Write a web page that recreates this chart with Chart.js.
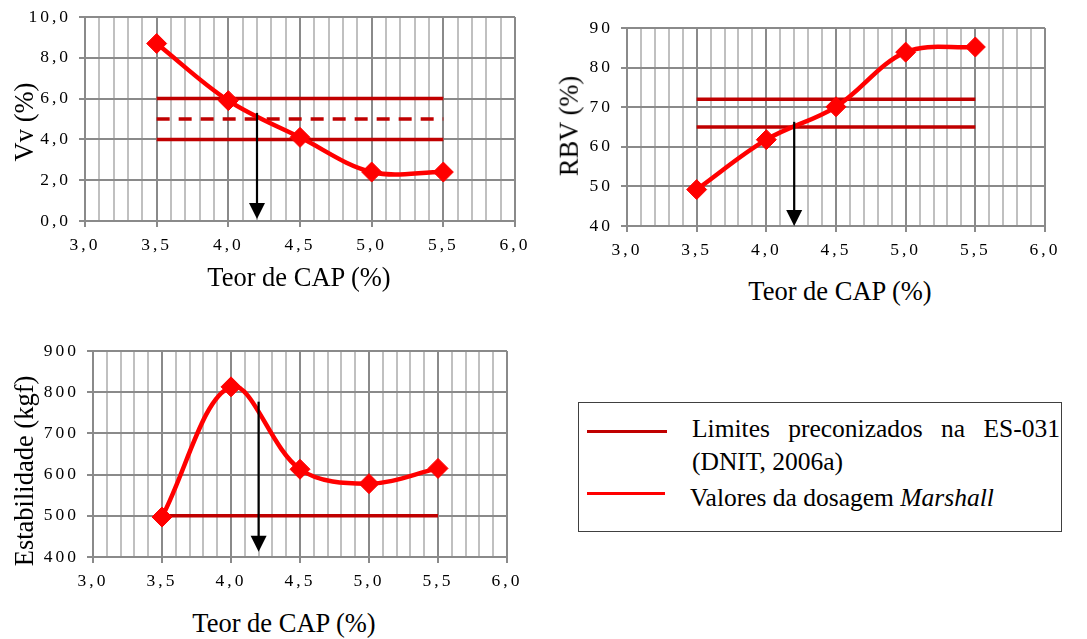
<!DOCTYPE html>
<html lang="pt">
<head>
<meta charset="utf-8">
<title>Dosagem Marshall – Vv, RBV e Estabilidade</title>
<script src="https://cdn.jsdelivr.net/npm/chart.js@4.4.1/dist/chart.umd.min.js"></script>
<style>
  html, body { margin: 0; padding: 0; background: #fff; }
  body { position: relative; width: 1087px; height: 639px; overflow: hidden;
         font-family: 'Liberation Serif', 'Times New Roman', serif; color: #000; }
  canvas { position: absolute; }
  .titulo { position: absolute; font-size: 26.5px; line-height: 1; white-space: nowrap;
            transform: translate(-50%, -50%); }
  .titulo.vertical { transform: translate(-50%, -50%) rotate(-90deg); }
  #legenda { position: absolute; left: 578px; top: 402px; width: 484px; height: 130px;
             box-sizing: border-box; border: 1.5px solid #404040; }
  .leg-linha { position: absolute; height: 3px; }
  .leg-texto { position: absolute; font-size: 25.5px; line-height: 1; white-space: nowrap; }
  .justificado { display: flex; justify-content: space-between; width: 368px; }
</style>
</head>
<body>

<canvas id="grafVv" width="540" height="262" style="left:0;top:0"></canvas>
<canvas id="grafRbv" width="547" height="270" style="left:540px;top:0"></canvas>
<canvas id="grafEstab" width="540" height="280" style="left:0;top:320px"></canvas>

<div class="titulo" style="left:299px;top:277px">Teor de CAP (%)</div>
<div class="titulo" style="left:840px;top:291px">Teor de CAP (%)</div>
<div class="titulo" style="left:284px;top:623px">Teor de CAP (%)</div>
<div class="titulo vertical" style="left:24px;top:122px">Vv (%)</div>
<div class="titulo vertical" style="left:569px;top:126px">RBV (%)</div>
<div class="titulo vertical" style="left:24px;top:471px">Estabilidade (kgf)</div>

<div id="legenda"></div>
<div class="leg-linha" style="left:587px;top:430px;width:80px;background:#C00000"></div>
<div class="leg-texto justificado" style="left:692px;top:416px">
  <span>Limites</span><span>preconizados</span><span>na</span><span>ES-031</span>
</div>
<div class="leg-texto" style="left:692px;top:449px">(DNIT, 2006a)</div>
<div class="leg-linha" style="left:587px;top:492px;width:78px;background:#FF0000"></div>
<div class="leg-texto" style="left:690px;top:485px">Valores da dosagem <i>Marshall</i></div>

<script>
// Teor de CAP (%) ensaiado em cada corpo de prova
const teorCAP = [3.5, 4.0, 4.5, 5.0, 5.5];

// Resultados da dosagem Marshall
const vv = [8.7, 5.9, 4.1, 2.4, 2.4];              // volume de vazios (%)
const rbv = [49.2, 61.8, 70.1, 83.9, 85.2];        // relação betume/vazios (%)
const estabilidade = [497, 813, 613, 578, 615];    // estabilidade (kgf)

// Limites da especificação ES-031 (traçados de 3,5 a 5,5 % de CAP)
const faixaLimites = [3.5, 5.5];
const vvLimites = [4.0, 6.0];
const vvCentral = [5.0];
const rbvLimites = [65, 72];
const estabLimites = [500];

// Teor de projeto indicado pelas setas e o trecho vertical de cada seta
const teorProjeto = 4.2;
const vvSeta = [5.3, 0.1];
const rbvSeta = [66.3, 40];
const estabSeta = [777, 413];

// Eixos
const eixoX = [3.0, 6.0, 0.1];          // mínimo, máximo, passo das linhas de grade
const eixoVv = [0, 10, 2];
const eixoRbv = [40, 90, 10];
const eixoEstab = [400, 900, 100];

const FONTE = "'Liberation Serif', 'Times New Roman', serif";
const VERMELHO = '#FF0000';
const VERMELHO_ESCURO = '#C00000';
const GRADE_PRINCIPAL = '#8a8a8a';
const GRADE_SECUNDARIA = '#c0c0c0';

const ehPrincipal = v => Math.abs(v * 2 - Math.round(v * 2)) < 1e-6;
const virgula = (v, casas) => v.toFixed(casas).replace('.', ',');

// Espaçamento entre caracteres dos rótulos numéricos e seta do teor de projeto
const pluginSeta = {
  id: 'setaTeor',
  beforeDraw(chart) { chart.ctx.letterSpacing = '3px'; },
  afterDatasetsDraw(chart, args, opts) {
    const { ctx, scales: { x, y } } = chart;
    const px = x.getPixelForValue(teorProjeto);
    const yIni = y.getPixelForValue(opts.trecho[0]);
    const yFim = y.getPixelForValue(opts.trecho[1]);
    const ponta = 16, meia = 8;
    ctx.save();
    ctx.strokeStyle = '#000';
    ctx.fillStyle = '#000';
    ctx.lineWidth = 2.2;
    ctx.beginPath();
    ctx.moveTo(px, yIni);
    ctx.lineTo(px, yFim - ponta + 1);
    ctx.stroke();
    ctx.beginPath();
    ctx.moveTo(px - meia, yFim - ponta);
    ctx.lineTo(px + meia, yFim - ponta);
    ctx.lineTo(px, yFim);
    ctx.closePath();
    ctx.fill();
    ctx.restore();
  }
};

function montarGrafico(id, cfg) {
  const datasets = [];
  // série medida (desenhada por cima)
  datasets.push({
    data: teorCAP.map((x, i) => ({ x, y: cfg.valores[i] })),
    borderColor: VERMELHO,
    backgroundColor: VERMELHO,
    borderWidth: 4.5,
    tension: 0.35,
    pointStyle: 'rectRot',
    pointRadius: 10,
    pointBorderWidth: 1,
    pointBackgroundColor: VERMELHO,
    pointBorderColor: VERMELHO
  });
  cfg.tracejados.forEach(v => datasets.push({
    data: faixaLimites.map(x => ({ x, y: v })),
    borderColor: VERMELHO_ESCURO, borderWidth: 3.5, borderDash: [13, 9],
    pointRadius: 0, tension: 0
  }));
  cfg.limites.forEach(v => datasets.push({
    data: faixaLimites.map(x => ({ x, y: v })),
    borderColor: VERMELHO_ESCURO, borderWidth: 3.5,
    pointRadius: 0, tension: 0
  }));

  return new Chart(document.getElementById(id), {
    type: 'line',
    data: { datasets },
    plugins: [pluginSeta],
    options: {
      responsive: false,
      animation: false,
      devicePixelRatio: 1,
      layout: { padding: { top: cfg.topo, right: cfg.direita, left: 0, bottom: 0 } },
      plugins: {
        legend: { display: false },
        tooltip: { enabled: false },
        setaTeor: { trecho: cfg.seta }
      },
      scales: {
        x: {
          type: 'linear',
          min: eixoX[0], max: eixoX[1],
          afterFit(s) { s.height = cfg.alturaX; s.paddingLeft = 0; s.paddingRight = 0; },
          ticks: {
            stepSize: eixoX[2], autoSkip: false, maxRotation: 0, minRotation: 0,
            padding: 8, color: '#000',
            font: { family: FONTE, size: 17.5 },
            callback: v => ehPrincipal(v) ? virgula(v, 1) : ''
          },
          grid: {
            color: c => ehPrincipal(c.tick.value) ? GRADE_PRINCIPAL : GRADE_SECUNDARIA,
            lineWidth: 2,
            tickLength: 6,
            tickColor: c => ehPrincipal(c.tick.value) ? GRADE_PRINCIPAL : 'rgba(0,0,0,0)'
          },
          border: { color: GRADE_PRINCIPAL, width: 2 }
        },
        y: {
          type: 'linear',
          min: cfg.eixo[0], max: cfg.eixo[1],
          afterFit(s) { s.width = cfg.larguraY; s.paddingTop = 0; s.paddingBottom = 0; },
          ticks: {
            stepSize: cfg.eixo[2], padding: 8, color: '#000',
            font: { family: FONTE, size: 17.5 },
            callback: v => cfg.casas ? virgula(v, cfg.casas) : String(v)
          },
          grid: { color: GRADE_PRINCIPAL, lineWidth: 2, tickLength: 6, tickColor: GRADE_PRINCIPAL },
          border: { color: GRADE_PRINCIPAL, width: 2 }
        }
      }
    }
  });
}

montarGrafico('grafVv', {
  valores: vv, limites: vvLimites, tracejados: vvCentral, seta: vvSeta,
  eixo: eixoVv, casas: 1,
  larguraY: 85, alturaX: 41, topo: 17, direita: 25
});

montarGrafico('grafRbv', {
  valores: rbv, limites: rbvLimites, tracejados: [], seta: rbvSeta,
  eixo: eixoRbv, casas: 0,
  larguraY: 87, alturaX: 44, topo: 28, direita: 42
});

montarGrafico('grafEstab', {
  valores: estabilidade, limites: estabLimites, tracejados: [], seta: estabSeta,
  eixo: eixoEstab, casas: 0,
  larguraY: 93, alturaX: 43, topo: 31, direita: 33
});
</script>
</body>
</html>
